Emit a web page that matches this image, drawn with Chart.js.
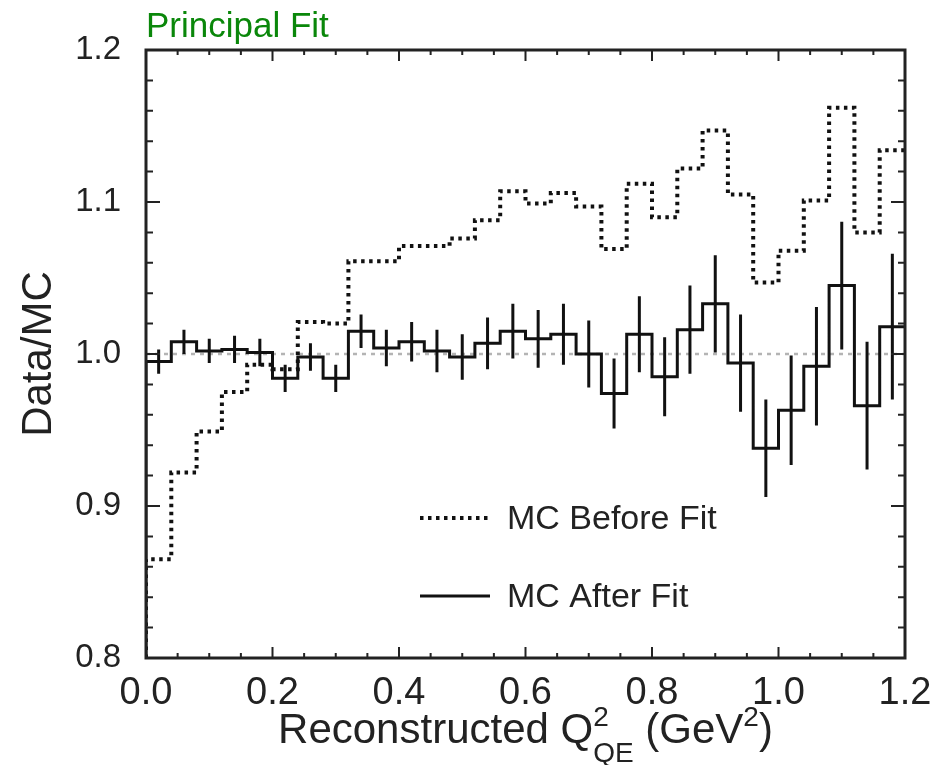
<!DOCTYPE html>
<html>
<head>
<meta charset="utf-8">
<script src="https://cdn.jsdelivr.net/npm/chart.js@4.4.0/dist/chart.umd.min.js"></script>
<style>
  body { margin: 0; background: #fff; }
  #wrap { width: 948px; height: 765px; }
</style>
</head>
<body>
<div id="wrap"><canvas id="fitChart"></canvas></div>
<script>
// Q2 bin edges (GeV^2), 0.04 wide
const binEdges = [0.00, 0.04, 0.08, 0.12, 0.16, 0.20, 0.24, 0.28, 0.32, 0.36, 0.40,
                  0.44, 0.48, 0.52, 0.56, 0.60, 0.64, 0.68, 0.72, 0.76, 0.80,
                  0.84, 0.88, 0.92, 0.96, 1.00, 1.04, 1.08, 1.12, 1.16, 1.20];
const binCenters = [0.02, 0.06, 0.10, 0.14, 0.18, 0.22, 0.26, 0.30, 0.34, 0.38,
                    0.42, 0.46, 0.50, 0.54, 0.58, 0.62, 0.66, 0.70, 0.74, 0.78,
                    0.82, 0.86, 0.90, 0.94, 0.98, 1.02, 1.06, 1.10, 1.14, 1.18];

// Data/MC ratio
const beforeFit = [0.865, 0.922, 0.949, 0.975, 0.993, 0.990, 1.021, 1.020, 1.061, 1.061,
                   1.071, 1.071, 1.076, 1.088, 1.107, 1.099, 1.106, 1.097, 1.069, 1.112,
                   1.090, 1.122, 1.147, 1.105, 1.047, 1.068, 1.101, 1.162, 1.080, 1.134];
const afterFit = [0.995, 1.008, 1.002, 1.003, 1.001, 0.984, 0.998, 0.984, 1.015, 1.004,
                  1.008, 1.002, 0.998, 1.007, 1.015, 1.010, 1.013, 1.000, 0.974, 1.013,
                  0.985, 1.016, 1.033, 0.994, 0.938, 0.963, 0.992, 1.045, 0.966, 1.018];
const afterErr = [0.008, 0.008, 0.008, 0.009, 0.009, 0.009, 0.009, 0.009, 0.011, 0.012,
                  0.013, 0.014, 0.015, 0.017, 0.018, 0.019, 0.020, 0.022, 0.023, 0.025,
                  0.026, 0.029, 0.032, 0.032, 0.032, 0.036, 0.039, 0.042, 0.042, 0.048];

const xTickValues = [0.0, 0.2, 0.4, 0.6, 0.8, 1.0, 1.2];
const yTickValues = [0.8, 0.9, 1.0, 1.1, 1.2];
const xMinorStep = 0.05;
const yMinorStep = 0.02;
const unityLine = 1.0;

const FONT = "'Liberation Sans', Arial, Helvetica, sans-serif";
const INK = '#222';

// histogram outline: start from the y floor at the first edge
function histPoints(vals) {
  const pts = [{x: binEdges[0], y: yTickValues[0]}];
  vals.forEach((v, i) => pts.push({x: binEdges[i], y: v}));
  pts.push({x: binEdges[binEdges.length - 1], y: vals[vals.length - 1]});
  return pts;
}

function errPoints() {
  const pts = [];
  binCenters.forEach((c, i) => {
    pts.push({x: c, y: afterFit[i] - afterErr[i]});
    pts.push({x: c, y: afterFit[i] + afterErr[i]});
    pts.push({x: c, y: null});
  });
  return pts;
}

// box + inward ticks on all four sides
const frameTicks = {
  id: 'frameTicks',
  afterDatasetsDraw(chart) {
    const {ctx, chartArea: a, scales: {x, y}} = chart;
    ctx.save();
    ctx.strokeStyle = INK;
    ctx.lineWidth = 2;
    const nx = Math.round((x.max - x.min) / xMinorStep);
    for (let i = 0; i <= nx; i++) {
      const v = x.min + i * xMinorStep;
      const major = xTickValues.some(t => Math.abs(t - v) < 1e-6);
      const len = major ? 11 : 5;
      const px = x.getPixelForValue(v);
      ctx.beginPath();
      ctx.moveTo(px, a.bottom); ctx.lineTo(px, a.bottom - len);
      ctx.moveTo(px, a.top); ctx.lineTo(px, a.top + len);
      ctx.stroke();
    }
    const ny = Math.round((y.max - y.min) / yMinorStep);
    for (let i = 0; i <= ny; i++) {
      const v = y.min + i * yMinorStep;
      const major = yTickValues.some(t => Math.abs(t - v) < 1e-6);
      const len = major ? 14 : 7;
      const py = y.getPixelForValue(v);
      ctx.beginPath();
      ctx.moveTo(a.left, py); ctx.lineTo(a.left + len, py);
      ctx.moveTo(a.right, py); ctx.lineTo(a.right - len, py);
      ctx.stroke();
    }
    ctx.lineWidth = 3;
    ctx.strokeRect(a.left, a.top, a.right - a.left, a.bottom - a.top);
    ctx.restore();
  }
};

// legend inside the plot
const innerLegend = {
  id: 'innerLegend',
  afterDraw(chart) {
    const {ctx, chartArea: a} = chart;
    const rows = [chart.data.datasets[1], chart.data.datasets[0]];
    ctx.save();
    ctx.font = '34px ' + FONT;
    ctx.fillStyle = INK;
    ctx.textBaseline = 'middle';
    rows.forEach((ds, i) => {
      const yy = a.top + 468 + i * 78;
      ctx.beginPath();
      ctx.strokeStyle = ds.borderColor;
      ctx.lineWidth = ds.borderWidth;
      ctx.setLineDash(ds.borderDash || []);
      ctx.moveTo(a.left + 274, yy);
      ctx.lineTo(a.left + 344, yy);
      ctx.stroke();
      ctx.setLineDash([]);
      ctx.fillText(ds.label, a.left + 361, yy + 2);
    });
    ctx.restore();
  }
};

// x axis title with super/subscripts
const xTitle = {
  id: 'xTitle',
  afterDraw(chart) {
    const {ctx, chartArea: a} = chart;
    const big = '42px ' + FONT, small = '28px ' + FONT;
    const parts = [
      {t: 'Reconstructed Q', f: big, dy: 0},
      {t: '2', f: small, dy: -17, stackWith: 'QE'},
      {t: 'QE', f: small, dy: 19},
      {t: ' (GeV', f: big, dy: 0},
      {t: '2', f: small, dy: -17},
      {t: ')', f: big, dy: 0}
    ];
    ctx.save();
    ctx.fillStyle = INK;
    ctx.textBaseline = 'alphabetic';
    let total = 0;
    const widths = parts.map(p => { ctx.font = p.f; return ctx.measureText(p.t).width; });
    parts.forEach((p, i) => { if (!p.stackWith) total += widths[i]; });
    let xx = (a.left + a.right) / 2 - total / 2;
    const base = 743;
    parts.forEach((p, i) => {
      ctx.font = p.f;
      ctx.fillText(p.t, xx, base + p.dy);
      if (!p.stackWith) xx += widths[i];
    });
    ctx.restore();
  }
};

const ctx = document.getElementById('fitChart').getContext('2d');
new Chart(ctx, {
  type: 'line',
  data: {
    datasets: [{
      label: 'MC After Fit',
      data: histPoints(afterFit),
      stepped: 'before',
      borderColor: '#111',
      borderWidth: 3,
      pointRadius: 0,
      fill: false
    }, {
      label: 'MC Before Fit',
      data: histPoints(beforeFit),
      stepped: 'before',
      borderColor: '#111',
      borderWidth: 4,
      borderDash: [3.5, 4.5],
      pointRadius: 0,
      fill: false
    }, {
      label: 'errors',
      data: errPoints(),
      borderColor: '#111',
      borderWidth: 3,
      pointRadius: 0,
      spanGaps: false
    }, {
      label: 'unity',
      data: [{x: binEdges[0], y: unityLine}, {x: binEdges[binEdges.length - 1], y: unityLine}],
      borderColor: '#b4b4b4',
      borderWidth: 2.5,
      borderDash: [4, 5],
      pointRadius: 0
    }]
  },
  options: {
    responsive: true,
    maintainAspectRatio: false,
    animation: false,
    layout: { padding: { top: 0, right: 43, bottom: 0, left: 0 } },
    plugins: {
      legend: { display: false },
      tooltip: { enabled: false },
      title: {
        display: true,
        text: 'Principal Fit',
        align: 'start',
        fullSize: false,
        color: '#0a870a',
        font: { family: FONT, size: 35, weight: 'normal' },
        padding: { top: 6, bottom: 2 }
      }
    },
    scales: {
      x: {
        type: 'linear',
        min: 0, max: 1.2,
        grid: { display: false },
        border: { display: false },
        afterBuildTicks: s => { s.ticks = xTickValues.map(v => ({value: v})); },
        afterFit: s => { s.height = 107; },
        ticks: {
          color: INK,
          padding: 5,
          maxRotation: 0,
          font: { family: FONT, size: 38 },
          callback: v => Number(v).toFixed(1)
        }
      },
      y: {
        min: 0.8, max: 1.2,
        grid: { display: false },
        border: { display: false },
        afterBuildTicks: s => { s.ticks = yTickValues.map(v => ({value: v})); },
        afterFit: s => { s.width = 146; },
        ticks: {
          color: INK,
          padding: 17,
          font: { family: FONT, size: 33 },
          callback: v => Number(v).toFixed(1)
        },
        title: {
          display: true,
          text: 'Data/MC',
          color: INK,
          font: { family: FONT, size: 42 },
          padding: { top: 14 }
        }
      }
    }
  },
  plugins: [frameTicks, innerLegend, xTitle]
});
</script>
</body>
</html>
